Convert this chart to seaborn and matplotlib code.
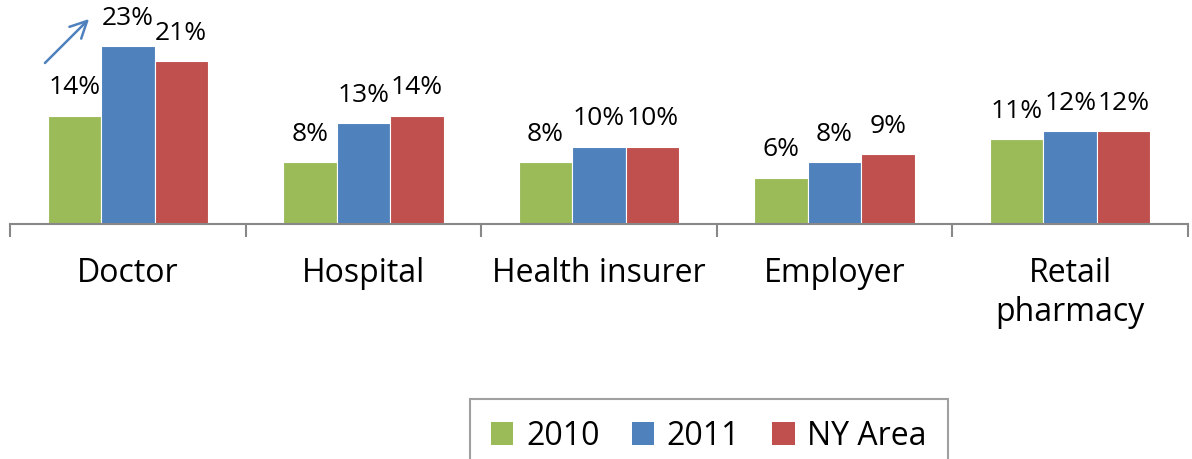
import matplotlib
matplotlib.use("Agg")
import matplotlib.pyplot as plt
from matplotlib.ticker import FixedLocator
from matplotlib.patches import Patch
import seaborn as sns
import pandas as pd

categories = ["Doctor", "Hospital", "Health insurer", "Employer", "Retail\npharmacy"]
series = ["2010", "2011", "NY Area"]
values_2010 = [14, 8, 8, 6, 11]
values_2011 = [23, 13, 10, 8, 12]
values_ny = [21, 14, 10, 9, 12]
colors = ["#9BBB59", "#4F81BD", "#C0504D"]

rows = []
for s, vals in zip(series, [values_2010, values_2011, values_ny]):
    for c, v in zip(categories, vals):
        rows.append({"category": c, "series": s, "value": v})
df = pd.DataFrame(rows)

sns.set_theme(style="white")
plt.rcParams["font.family"] = ["Open Sans", "DejaVu Sans"]
plt.rcParams["text.color"] = "black"

fig = plt.figure(figsize=(11.92, 4.59), dpi=100)
ax = fig.add_axes([10 / 1192, 1 - 224 / 459, 1178 / 1192, 224 / 459])

sns.barplot(data=df, x="category", y="value", hue="series", order=categories,
            hue_order=series, palette=colors, saturation=1, width=0.68, gap=0,
            edgecolor="white", linewidth=0.8, ax=ax, legend=False)

for cont, vals in zip(ax.containers, [values_2010, values_2011, values_ny]):
    ax.bar_label(cont, labels=[f"{v}%" for v in vals], padding=11,
                 fontsize=19, color="black")

ax.set_ylim(0, 224 / 7.74)
ax.set_xlim(-0.5, len(categories) - 0.5)
ax.set_xlabel("")
ax.set_ylabel("")
ax.set_yticks([])
for side in ["left", "right", "top"]:
    ax.spines[side].set_visible(False)
ax.spines["bottom"].set_color("#888888")
ax.spines["bottom"].set_linewidth(1.5)

ax.xaxis.set_minor_locator(FixedLocator([i - 0.5 for i in range(len(categories) + 1)]))
ax.tick_params(axis="x", which="minor", length=9, width=1.5, color="#888888", direction="out", bottom=True)
ax.tick_params(axis="x", which="major", length=0, pad=24, labelsize=23, labelcolor="black")
for t in ax.get_xticklabels():
    t.set_linespacing(1.22)
    t.set_verticalalignment("top")

ax.annotate("", xy=(0.0688, 0.924), xytext=(0.028, 0.71), xycoords="axes fraction",
            textcoords="axes fraction",
            arrowprops=dict(arrowstyle="->", color="#4F81BD", lw=1.8, mutation_scale=30),
            annotation_clip=False)

handles = [Patch(facecolor=c, edgecolor="none") for c in colors]
leg = fig.legend(handles, series, loc="upper center", bbox_to_anchor=(709 / 1192, 1 - 399 / 459),
                 ncol=3, frameon=True, fancybox=False, fontsize=23,
                 handlelength=0.7, handleheight=0.7, handletextpad=0.4,
                 columnspacing=1.0, borderpad=0.65, borderaxespad=0)
for txt in leg.get_texts():
    txt.set_color("black")
leg.get_frame().set_edgecolor("#888888")
leg.get_frame().set_linewidth(1.5)

fig.savefig("out.png", dpi=100)
